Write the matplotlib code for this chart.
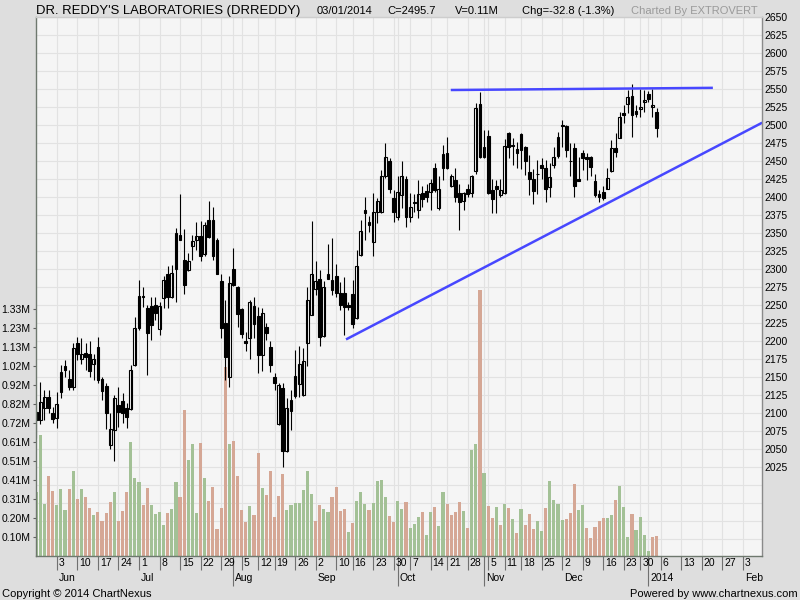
import numpy as np
import pandas as pd
import matplotlib
matplotlib.use("Agg")
import matplotlib.pyplot as plt

# DR. REDDY'S LABORATORIES (DRREDDY), daily bars 27 May 2013 .. 3 Jan 2014
opens = [2102, 2090, 2108, 2122, 2100, 2093, 2129, 2166, 2147, 2136,
         2197, 2175, 2184, 2183, 2169, 2192, 2147, 2138, 2056, 2077,
         2112, 2117, 2107, 2106, 2167, 2218, 2263, 2246, 2249, 2250,
         2217, 2260, 2294, 2261, 2301, 2341, 2313, 2299, 2332, 2340,
         2346, 2321, 2369, 2368, 2341, 2284, 2225, 2150, 2300, 2275,
         2245, 2200, 2205, 2249, 2235, 2181, 2220, 2192, 2150, 2085,
         2135, 2047, 2103, 2124, 2140, 2125, 2197, 2236, 2272, 2286,
         2207, 2287, 2271, 2291, 2267, 2267, 2250, 2266, 2232, 2320,
         2383, 2362, 2338, 2380, 2380, 2430, 2450, 2399, 2373, 2403,
         2425, 2373, 2393, 2383, 2406, 2409, 2408, 2440, 2385, 2440,
         2461, 2415, 2424, 2406, 2395, 2412, 2406, 2437, 2530, 2456,
         2485, 2410, 2416, 2403, 2406, 2489, 2472, 2467, 2488, 2470,
         2435, 2426, 2433, 2445, 2440, 2414, 2445, 2457, 2500, 2499,
         2451, 2468, 2425, 2462, 2456, 2456, 2423, 2405, 2407, 2412,
         2436, 2469, 2483, 2517, 2530, 2541, 2520, 2522, 2532, 2543,
         2525, 2519]
highs = [2114, 2143, 2133, 2132, 2109, 2129, 2167, 2174, 2160, 2198,
         2206, 2204, 2197, 2200, 2183, 2206, 2151, 2142, 2100, 2125,
         2136, 2128, 2114, 2167, 2234, 2285, 2276, 2250, 2262, 2262,
         2255, 2290, 2304, 2306, 2357, 2405, 2356, 2322, 2348, 2365,
         2367, 2366, 2395, 2386, 2344, 2294, 2257, 2290, 2329, 2277,
         2246, 2213, 2257, 2262, 2248, 2246, 2225, 2200, 2156, 2142,
         2142, 2121, 2133, 2188, 2193, 2190, 2276, 2367, 2312, 2299,
         2284, 2335, 2344, 2307, 2283, 2289, 2255, 2285, 2327, 2368,
         2401, 2374, 2406, 2399, 2438, 2475, 2454, 2410, 2429, 2450,
         2429, 2406, 2405, 2424, 2415, 2419, 2426, 2447, 2429, 2473,
         2484, 2433, 2440, 2419, 2408, 2419, 2431, 2531, 2546, 2494,
         2494, 2425, 2424, 2426, 2481, 2490, 2482, 2477, 2489, 2471,
         2459, 2439, 2452, 2454, 2452, 2447, 2470, 2491, 2507, 2500,
         2475, 2475, 2456, 2466, 2461, 2457, 2433, 2410, 2415, 2440,
         2480, 2489, 2518, 2528, 2549, 2557, 2528, 2550, 2549, 2547,
         2550, 2524]
lows = [2066, 2085, 2090, 2100, 2086, 2080, 2121, 2151, 2132, 2132,
        2174, 2169, 2160, 2151, 2146, 2142, 2119, 2078, 2051, 2034,
        2081, 2086, 2080, 2105, 2166, 2216, 2248, 2153, 2202, 2230,
        2209, 2246, 2246, 2260, 2254, 2340, 2265, 2297, 2313, 2327,
        2312, 2319, 2344, 2313, 2293, 2204, 2146, 2136, 2277, 2220,
        2204, 2186, 2175, 2204, 2156, 2159, 2202, 2158, 2133, 2084,
        2026, 2046, 2077, 2121, 2123, 2124, 2165, 2236, 2264, 2194,
        2206, 2286, 2264, 2262, 2244, 2209, 2244, 2218, 2231, 2318,
        2341, 2352, 2318, 2364, 2378, 2427, 2406, 2366, 2369, 2385,
        2359, 2366, 2380, 2371, 2387, 2394, 2382, 2408, 2382, 2424,
        2439, 2414, 2394, 2354, 2382, 2401, 2401, 2433, 2454, 2454,
        2405, 2378, 2378, 2401, 2404, 2454, 2445, 2440, 2439, 2431,
        2403, 2390, 2405, 2426, 2394, 2401, 2440, 2455, 2470, 2456,
        2429, 2401, 2422, 2438, 2424, 2429, 2400, 2393, 2396, 2411,
        2435, 2456, 2482, 2503, 2517, 2484, 2512, 2511, 2519, 2533,
        2512, 2484]
closes = [2091, 2116, 2122, 2108, 2092, 2113, 2157, 2160, 2137, 2190,
          2182, 2183, 2178, 2159, 2176, 2146, 2131, 2100, 2078, 2121,
          2102, 2100, 2095, 2160, 2219, 2263, 2261, 2211, 2222, 2239,
          2249, 2285, 2261, 2295, 2350, 2347, 2278, 2312, 2339, 2346,
          2319, 2361, 2345, 2318, 2294, 2218, 2178, 2281, 2278, 2238,
          2210, 2198, 2255, 2224, 2181, 2239, 2211, 2167, 2142, 2139,
          2047, 2108, 2119, 2152, 2168, 2173, 2258, 2293, 2284, 2206,
          2275, 2294, 2285, 2267, 2250, 2247, 2248, 2224, 2304, 2353,
          2378, 2366, 2379, 2395, 2429, 2456, 2412, 2380, 2408, 2429,
          2372, 2386, 2392, 2404, 2397, 2401, 2420, 2410, 2411, 2460,
          2440, 2430, 2400, 2393, 2406, 2405, 2429, 2524, 2456, 2470,
          2406, 2397, 2411, 2410, 2471, 2470, 2471, 2461, 2466, 2451,
          2426, 2409, 2432, 2440, 2411, 2428, 2456, 2484, 2499, 2466,
          2450, 2415, 2423, 2454, 2453, 2442, 2403, 2400, 2399, 2427,
          2468, 2463, 2512, 2514, 2539, 2514, 2516, 2525, 2535, 2537,
          2528.5, 2495.7]
# volume, millions of shares
volumes = [0.345, 0.650, 0.282, 0.429, 0.350, 0.273, 0.359, 0.246, 0.359, 0.456,
           0.305, 0.359, 0.318, 0.257, 0.219, 0.235, 0.187, 0.230, 0.289, 0.343,
           0.187, 0.241, 0.343, 0.612, 0.419, 0.397, 0.273, 0.365, 0.273, 0.225,
           0.235, 0.165, 0.230, 0.252, 0.397, 0.316, 0.785, 0.515, 0.602, 0.230,
           0.607, 0.419, 0.295, 0.370, 0.144, 0.257, 1.018, 0.602, 0.618, 0.429,
           0.246, 0.182, 0.268, 0.219, 0.553, 0.365, 0.327, 0.456, 0.208, 0.322,
           0.440, 0.246, 0.273, 0.284, 0.284, 0.354, 0.456, 0.332, 0.187, 0.273,
           0.252, 0.235, 0.316, 0.370, 0.241, 0.252, 0.128, 0.177, 0.295, 0.344,
           0.280, 0.247, 0.284, 0.403, 0.409, 0.316, 0.216, 0.183, 0.296, 0.253,
           0.291, 0.151, 0.172, 0.210, 0.237, 0.113, 0.237, 0.264, 0.162, 0.345,
           0.280, 0.221, 0.237, 0.291, 0.243, 0.151, 0.571, 0.603, 1.431, 0.447,
           0.269, 0.205, 0.264, 0.167, 0.280, 0.259, 0.199, 0.124, 0.253, 0.167,
           0.226, 0.146, 0.189, 0.135, 0.259, 0.404, 0.302, 0.280, 0.194, 0.199,
           0.232, 0.388, 0.248, 0.275, 0.151, 0.097, 0.156, 0.189, 0.205, 0.205,
           0.221, 0.302, 0.377, 0.264, 0.102, 0.226, 0.140, 0.210, 0.113, 0.027,
           0.102, 0.106]

holidays = ['2013-08-09', '2013-08-15', '2013-09-09', '2013-10-02',
            '2013-10-16', '2013-11-04', '2013-11-15', '2013-12-25']
month_names = ['Jun', 'Jul', 'Aug', 'Sep', 'Oct', 'Nov', 'Dec', '2014', 'Feb']
price_ticks = np.arange(1925, 2651, 25)
vol_labels = ['0.10M', '0.20M', '0.31M', '0.41M', '0.51M', '0.61M', '0.72M',
              '0.82M', '0.92M', '1.02M', '1.13M', '1.23M', '1.33M']
vol_step = 0.1025
# hand drawn trend lines (bar index, price)
flat_x, flat_y = [100.9, 164.7], [2549, 2552]
rise_x, rise_y = [75.4, 176.7], [2202.6, 2503.6]

FONT = ['Liberation Sans Narrow', 'Liberation Sans', 'DejaVu Sans']
plt.rcParams['font.family'] = FONT

# trading calendar -> bar index
days = pd.bdate_range('2013-05-27', '2014-02-14')
days = days[~days.isin(pd.to_datetime(holidays))]
idx = pd.Series(np.arange(len(days)), index=days)
n = len(closes)
x = np.arange(n)
xmin, xmax = -0.19, 176.66

week_pos = idx.groupby(days.to_period('W')).min().values
week_pos = [p for p in week_pos if 0 < p < xmax]
month_pos = idx.groupby(days.to_period('M')).min().values
month_pos = [p for p in month_pos if 0 < p < xmax]

W, H = 800, 600
fig = plt.figure(figsize=(8, 6), dpi=100)
fig.patch.set_facecolor('#dedede')
L, R, T, B = 35.5, 762, 17, 556
ax = fig.add_axes([L / W, 1 - B / H, (R - L) / W, (B - T) / H])
ax_v = ax.twinx()
ax_c = ax.twinx()

ylo, yhi = 1901.8, 2650.4
ax.set_facecolor('#f5f5f5')
ax.set_xlim(xmin, xmax)
ax.set_ylim(ylo, yhi)
ax_c.set_ylim(ylo, yhi)
ax_v.set_ylim(0, 2.9032)

# price axis on the right
ax.yaxis.tick_right()
ax.set_yticks(price_ticks)
ax.set_yticklabels([str(p) if p >= 2025 else '' for p in price_ticks])
ax.tick_params(axis='y', length=0, pad=2, labelsize=7.5)

# x ticks: weeks (short) and months (long)
ax.set_xticks(week_pos)
ax.set_xticks(month_pos, minor=True)
ax.set_xticklabels([])
ax.tick_params(axis='x', which='major', length=10, width=0.8, color='#707070')
ax.tick_params(axis='x', which='minor', length=21.5, width=0.8, color='#707070')
ax.grid(True, which='both', color='#e2e2e2', lw=0.8)
ax.set_axisbelow(True)

for p in week_pos:
    ax.annotate(str(days[p].day), xy=(p, 0), xycoords=ax.get_xaxis_transform(),
                xytext=(2, -7), textcoords='offset pixels', ha='left', va='center',
                fontsize=7.5, annotation_clip=False)
for p, name in zip(month_pos, month_names):
    ax.annotate(name, xy=(p, 0), xycoords=ax.get_xaxis_transform(),
                xytext=(2, -22), textcoords='offset pixels', ha='left', va='center',
                fontsize=7.5, annotation_clip=False)

# volume axis on the left
ax_v.yaxis.tick_left()
ax_v.set_yticks([vol_step * k for k in range(1, len(vol_labels) + 1)])
ax_v.set_yticklabels(vol_labels)
ax_v.tick_params(axis='y', length=2.5, pad=1, labelsize=7.5, color='#606060')
up = np.r_[True, np.diff(closes) > 0]
vcol = np.where(up, '#a3c196', '#d5a795')
ax_v.bar(x, volumes, width=0.76, color=vcol, linewidth=0)

# candles
ax_c.set_yticks([])
ax_c.tick_params(left=False, right=False)
o = np.array(opens, float)
c = np.array(closes, float)
ax_c.vlines(x, lows, highs, color='black', lw=0.8)
body_face = np.where(c >= o, 'white', 'black')
ax_c.bar(x, np.abs(c - o), bottom=np.minimum(o, c), width=0.68,
         color=body_face, edgecolor='black', linewidth=0.8)

ax_c.plot(flat_x, flat_y, color='#4747ff', lw=1.8, solid_capstyle='butt')
ax_c.plot(rise_x, rise_y, color='#4747ff', lw=1.8, solid_capstyle='butt')

for a in (ax, ax_v):
    for s in a.spines.values():
        s.set_visible(False)
ax_c.spines['left'].set_color('#6e786e')
ax_c.spines['bottom'].set_color('#6e786e')
ax_c.spines['right'].set_color('#8a8a8a')
ax_c.spines['top'].set_color('#cdcdcd')
for s in ax_c.spines.values():
    s.set_linewidth(1)


def ftext(px, py, s, **kw):
    fig.text(px / W, 1 - py / H, s, **kw)


ftext(36, 14, "DR. REDDY'S LABORATORIES (DRREDDY)", fontsize=9.4, va='baseline')
ftext(317, 14, "03/01/2014", fontsize=8, va='baseline')
ftext(387, 14, "C=2495.7", fontsize=8, va='baseline')
ftext(455, 14, "V=0.11M", fontsize=8, va='baseline')
ftext(522, 14, "Chg=-32.8 (-1.3%)", fontsize=8, va='baseline')
ftext(631, 14, "Charted By EXTROVERT", fontsize=8, va='baseline', color='#9a9a9a')
ftext(2, 597, "Copyright \u00a9 2014 ChartNexus", fontsize=8, va='baseline')
ftext(798, 597, "Powered by www.chartnexus.com", fontsize=8, va='baseline', ha='right')

fig.savefig('out.png', dpi=100, facecolor=fig.get_facecolor())
